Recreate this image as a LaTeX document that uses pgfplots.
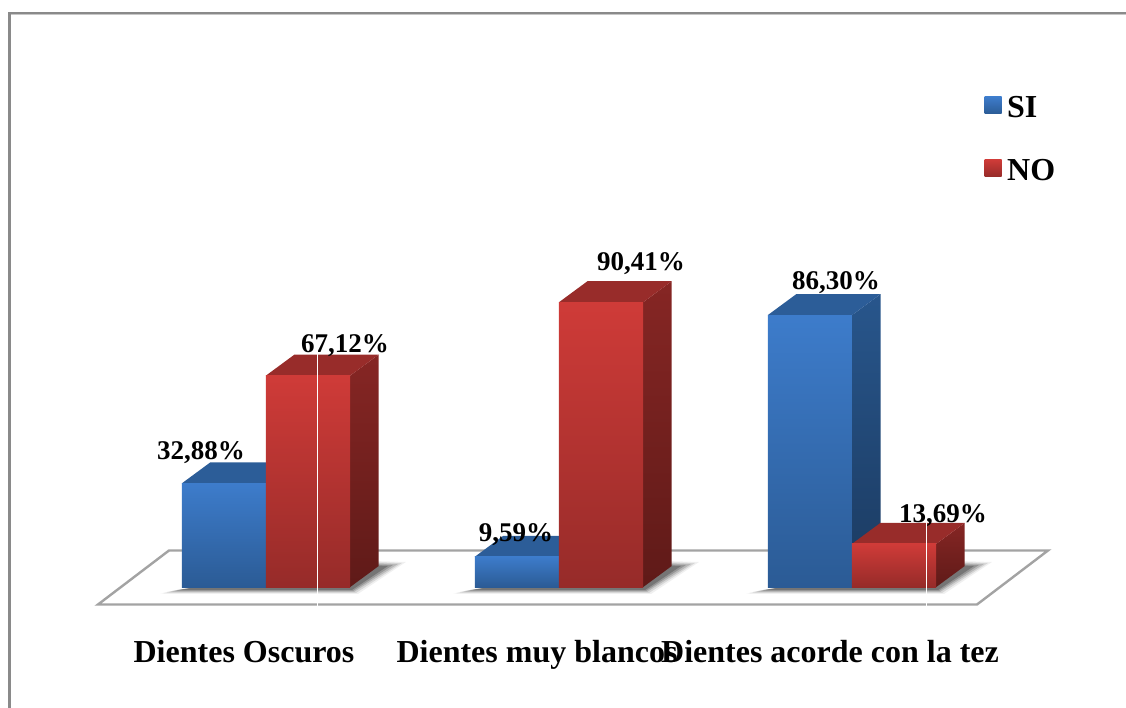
\documentclass[border=0pt]{standalone}
\usepackage{fontspec}
\setmainfont{Liberation Serif}
\usepackage{pgfplots}
\pgfplotsset{compat=1.18}
\definecolor{blueTop}{HTML}{3D7CCB}
\definecolor{blueBot}{HTML}{2B5B95}
\definecolor{blueCap}{HTML}{2C5D98}
\definecolor{blueSideTop}{HTML}{28568C}
\definecolor{blueSideBot}{HTML}{1B3A60}
\definecolor{redTop}{HTML}{CF3B38}
\definecolor{redBot}{HTML}{962B29}
\definecolor{redCap}{HTML}{982C2A}
\definecolor{redSideTop}{HTML}{862624}
\definecolor{redSideBot}{HTML}{5F1A18}
\definecolor{frameGray}{HTML}{8A8A8A}
\definecolor{floorGray}{HTML}{A3A3A3}

% bar width and depth in axis units (293 px per category, 3.15 px per percent)
\def\bw{0.2875}
\def\ddx{0.0973}
\def\ddy{6.67}
% #1 left edge, #2 value, #3 colour prefix
\newcommand{\threedbar}[3]{%
  \pgfmathsetmacro{\xr}{#1+\bw}%
  \pgfmathsetmacro{\xlb}{#1+\ddx}%
  \pgfmathsetmacro{\xrb}{\xr+\ddx}%
  \pgfmathsetmacro{\vb}{#2+\ddy}%
  \addplot[forget plot,draw=none,top color=#3SideTop,bottom color=#3SideBot]
    coordinates {(\xr,0) (\xr,#2) (\xrb,\vb) (\xrb,\ddy)} -- cycle;
  \addplot[forget plot,draw=none,fill=#3Cap]
    coordinates {(#1,#2) (\xlb,\vb) (\xrb,\vb) (\xr,#2)} -- cycle;
  \addplot[forget plot,draw=none,top color=#3Top,bottom color=#3Bot]
    coordinates {(#1,0) (#1,#2) (\xr,#2) (\xr,0)} -- cycle;
}
\newcommand{\floorshadow}[1]{%
  \begin{scope}[xshift=#1pt]
    \fill[black,opacity=.06] (160,594) -- (358,594) -- (406,562) -- (340,560) -- cycle;
    \fill[black,opacity=.10] (163,593) -- (356,593) -- (402,563) -- (340,561) -- cycle;
    \fill[black,opacity=.14] (167,592) -- (354,592) -- (398,564) -- (340,562) -- cycle;
    \fill[black,opacity=.18] (172,591) -- (353,591) -- (393,565) -- (340,563) -- cycle;
    \fill[black,opacity=.22] (177,590) -- (352,590) -- (388,566) -- (340,564) -- cycle;
  \end{scope}
}
% legend swatch, with a little empty room to its right
\newcommand{\swatch}[2]{%
  \shade[draw=none,top color=#1,bottom color=#2] (0pt,-6pt) rectangle (17pt,11pt);
  \path[draw=none] (17pt,0pt) -- (20.5pt,0pt);
}

\begin{document}
\begin{tikzpicture}
  % frame and floor, in reference pixels
  \begin{scope}[x=1pt,y=-1pt,shift={(0pt,708pt)}]
    \fill[frameGray] (8,12) rectangle (1126,14);
    \fill[black!22] (11,14) rectangle (1126,15);
    \fill[frameGray] (8,12) rectangle (11,708);
    \draw[floorGray,line width=2.4pt,fill=white,line join=miter]
      (169,550.5) -- (1048,550.5) -- (977,604.5) -- (98,604.5) -- cycle;
    \floorshadow{0}
    \floorshadow{293}
    \floorshadow{586}
  \end{scope}

  \begin{axis}[
      scale only axis,
      width=1126pt,
      height=708pt,
      xmin=-0.9078, xmax=2.9352,
      ymin=-38.41, ymax=186.35,
      clip=false,
      axis line style={draw=none},
      tick style={draw=none},
      major tick length=0pt,
      ytick=\empty,
      xtick={-0.075,0.925,1.925},
      xticklabels={Dientes Oscuros,Dientes muy blancos,Dientes acorde con la tez},
      xticklabel style={font=\fontsize{32}{36}\selectfont\bfseries,anchor=base,yshift=45pt},
      legend style={at={(axis cs:2.442,157)},anchor=north west,draw=none,fill=none,
        font=\fontsize{32}{36}\selectfont\bfseries,row sep=36pt,cells={anchor=west}},
    ]
    \threedbar{-0.2875}{32.88}{blue}
    \threedbar{0}{67.12}{red}
    \threedbar{0.7125}{9.59}{blue}
    \threedbar{1}{90.41}{red}
    \threedbar{1.7125}{86.30}{blue}
    \threedbar{2}{13.69}{red}

    % data labels, at the place they have in the chart
    \addplot[forget plot,draw=none,mark=none,
      point meta=explicit symbolic,
      nodes near coords={\pgfplotspointmeta\%},
      every node near coord/.style={anchor=base,inner sep=0pt,text=black,
        font=\fontsize{27}{30}\selectfont\bfseries}]
      table[meta=lab] {
        x      y       lab
        -0.222 40.63   32,88
        0.270  74.29   67,12
        0.853  14.60   9,59
        1.280  100.32  90,41
        1.945  94.29   86,30
        2.311  20.63   13,69
      };

    \addlegendimage{legend image code/.code={\swatch{blueTop}{blueBot}}}
    \addlegendentry{SI}
    \addlegendimage{legend image code/.code={\swatch{redTop}{redBot}}}
    \addlegendentry{NO}
  \end{axis}

  % thin white seams that run through the original
  \begin{scope}[x=1pt,y=-1pt,shift={(0pt,708pt)}]
    \draw[white,line width=1pt] (317,350) -- (317,606);
    \draw[white,line width=1pt] (926.5,522) -- (926.5,606);
  \end{scope}
\end{tikzpicture}
\end{document}
